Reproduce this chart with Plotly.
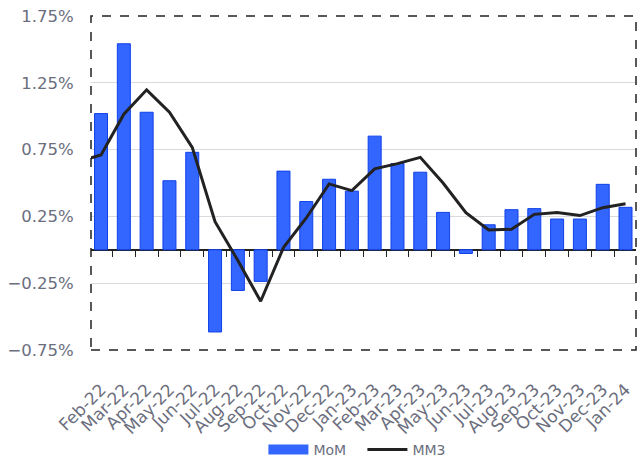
import plotly.graph_objects as go

months = ["Feb-22", "Mar-22", "Apr-22", "May-22", "Jun-22", "Jul-22", "Aug-22", "Sep-22",
          "Oct-22", "Nov-22", "Dec-22", "Jan-23", "Feb-23", "Mar-23", "Apr-23", "May-23",
          "Jun-23", "Jul-23", "Aug-23", "Sep-23", "Oct-23", "Nov-23", "Dec-23", "Jan-24"]
mom = [1.02, 1.543, 1.03, 0.517, 0.73, -0.616, -0.305, -0.237,
       0.589, 0.361, 0.528, 0.439, 0.851, 0.646, 0.581, 0.28,
       -0.028, 0.187, 0.30, 0.308, 0.23, 0.23, 0.49, 0.318]
# MM3 includes the preceding month (Jan-22), which is clipped at the left edge
mm3_prev = 0.66
mm3 = [0.71, 1.015, 1.198, 1.03, 0.767, 0.21, -0.08, -0.386,
       0.016, 0.238, 0.493, 0.443, 0.606, 0.645, 0.692, 0.50,
       0.278, 0.148, 0.153, 0.265, 0.279, 0.256, 0.315, 0.345]
ytick_vals = [1.75, 1.25, 0.75, 0.25, -0.25, -0.75]

xi = list(range(len(months)))
gray = "#6b6e7d"
blue = "#3366ff"
font_family = "DejaVu Sans, Noto Sans, sans-serif"

fig = go.Figure()
fig.add_trace(go.Bar(
    x=xi, y=[v / 100 for v in mom], name="MoM", width=0.57, showlegend=False,
    marker=dict(color=blue, line=dict(color="#1040e8", width=1)),
))
# legend entry for MoM drawn as a wide swatch
fig.add_trace(go.Scatter(
    x=[None], y=[None], name="MoM", mode="lines",
    line=dict(color=blue, width=10),
))
fig.add_trace(go.Scatter(
    x=[-1] + xi, y=[v / 100 for v in [mm3_prev] + mm3], name="MM3", mode="lines",
    line=dict(color="#222222", width=3),
))

fig.update_layout(
    width=637, height=466,
    margin=dict(l=91, r=1, t=16, b=115),
    paper_bgcolor="white", plot_bgcolor="white",
    font=dict(family=font_family, color=gray),
    showlegend=True,
    legend=dict(orientation="h", x=0.498, xanchor="center", y=-0.2955, yanchor="middle",
                font=dict(size=14, color=gray), itemwidth=40, entrywidth=44,
                traceorder="normal"),
    xaxis=dict(
        range=[-0.44, 23.46], tickmode="array", tickvals=xi, ticktext=months,
        tickangle=-45, tickfont=dict(size=17, color=gray), showgrid=False,
        zeroline=False, showline=False, ticks="outside", ticklen=22,
        tickcolor="rgba(0,0,0,0)",
    ),
    xaxis2=dict(
        overlaying="x", anchor="free", position=0.3, side="bottom",
        range=[-0.44, 23.46], tickmode="array",
        tickvals=[i + 0.5 for i in xi[:-1]], ticktext=["" for _ in xi[:-1]],
        ticks="outside", ticklen=6, tickwidth=1.2, tickcolor="#222222",
        showline=False, showgrid=False, zeroline=False, showticklabels=False,
    ),
    yaxis=dict(
        range=[-0.00751, 0.01751], tickmode="array", tickvals=[v / 100 for v in ytick_vals],
        tickformat=".2%", tickfont=dict(size=16.5, color=gray), showgrid=True,
        gridcolor="#d9d9e0", gridwidth=1, zeroline=True, zerolinecolor="#222222",
        zerolinewidth=1.6, ticks="outside", ticklen=13, tickcolor="rgba(0,0,0,0)",
        showline=False,
    ),
    shapes=[dict(type="rect", xref="paper", yref="paper", x0=0, x1=1, y0=0, y1=1,
                 line=dict(color="#222222", width=1.5, dash="dash"), layer="above")],
)
fig.add_trace(go.Scatter(x=[0], y=[0], xaxis="x2", mode="markers", marker=dict(opacity=0),
                         showlegend=False, hoverinfo="skip"))

fig.write_html("out.html", config={"displayModeBar": False},
               post_script="document.body.style.margin='0';")
